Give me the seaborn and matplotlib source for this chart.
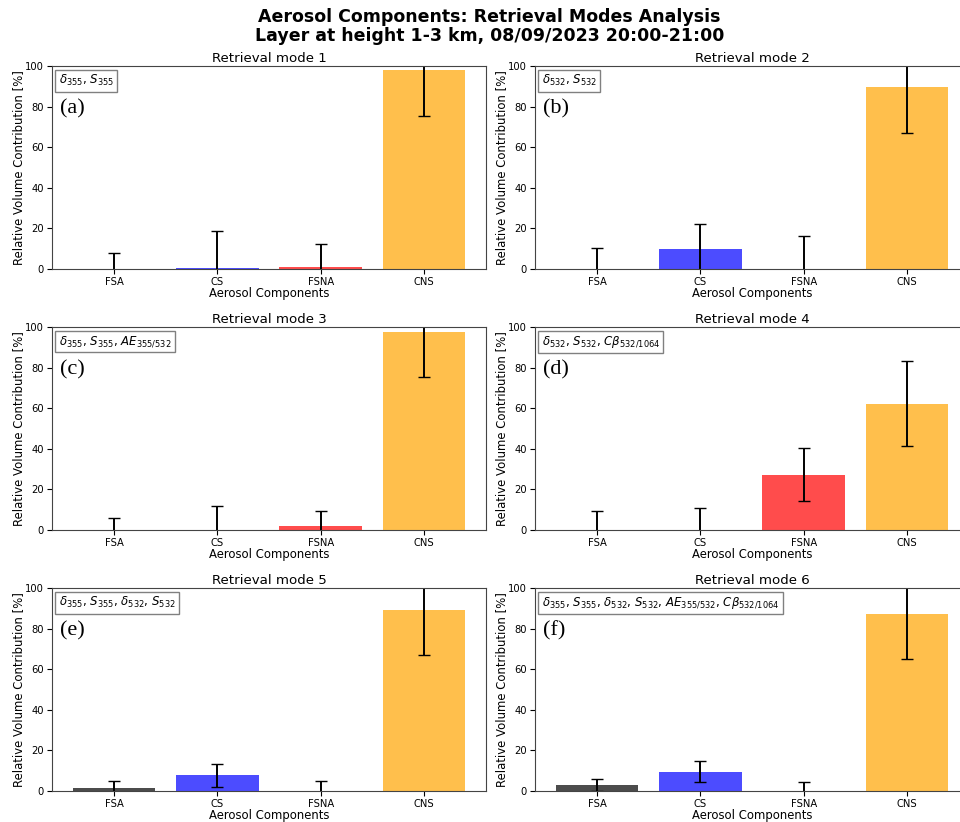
import matplotlib
matplotlib.use("Agg")
import matplotlib.pyplot as plt
import seaborn as sns
import pandas as pd

components = ["FSA", "CS", "FSNA", "CNS"]
colors = ["black", "blue", "red", "orange"]

mode_titles = ["Retrieval mode 1", "Retrieval mode 2", "Retrieval mode 3",
               "Retrieval mode 4", "Retrieval mode 5", "Retrieval mode 6"]
panel_labels = ["(a)", "(b)", "(c)", "(d)", "(e)", "(f)"]
mode_inputs = [
    r"$\delta_{355}$, $S_{355}$",
    r"$\delta_{532}$, $S_{532}$",
    r"$\delta_{355}$, $S_{355}$, $AE_{355/532}$",
    r"$\delta_{532}$, $S_{532}$, $C\beta_{532/1064}$",
    r"$\delta_{355}$, $S_{355}$, $\delta_{532}$, $S_{532}$",
    r"$\delta_{355}$, $S_{355}$, $\delta_{532}$, $S_{532}$, $AE_{355/532}$, $C\beta_{532/1064}$",
]

mode1_values = [0.0, 0.7, 1.2, 98.0]
mode1_errors = [8.0, 17.8, 11.3, 22.8]
mode2_values = [0.0, 10.0, 0.0, 89.5]
mode2_errors = [10.5, 12.2, 16.2, 22.5]
mode3_values = [0.0, 0.0, 2.0, 97.5]
mode3_errors = [5.7, 12.0, 7.6, 22.2]
mode4_values = [0.0, 0.0, 27.2, 62.2]
mode4_errors = [9.5, 10.6, 13.0, 20.9]
mode5_values = [1.5, 7.8, 0.0, 89.3]
mode5_errors = [3.5, 5.6, 5.0, 22.3]
mode6_values = [3.0, 9.5, 0.0, 87.2]
mode6_errors = [3.0, 5.2, 4.5, 22.3]

all_values = [mode1_values, mode2_values, mode3_values,
              mode4_values, mode5_values, mode6_values]
all_errors = [mode1_errors, mode2_errors, mode3_errors,
              mode4_errors, mode5_errors, mode6_errors]

palette = dict(zip(components, colors))

fig = plt.figure(figsize=(9.6, 8.22), dpi=100)

W, H = 960.0, 822.0
col_left = [52, 535]
col_width = 434
row_top = [66, 327, 588]
row_height = 203

for i in range(6):
    r, c = divmod(i, 2)
    left = col_left[c] / W
    bottom = 1 - (row_top[r] + row_height) / H
    ax = fig.add_axes([left, bottom, col_width / W, row_height / H])
    df = pd.DataFrame({"Component": components, "Value": all_values[i]})
    sns.barplot(data=df, x="Component", y="Value", hue="Component",
                palette=palette, alpha=0.7, saturation=1, width=0.8,
                legend=False, ax=ax, errorbar=None)
    ax.errorbar(range(len(components)), all_values[i], yerr=all_errors[i],
                fmt="none", ecolor="black", elinewidth=1.4, capsize=4.5,
                capthick=1.0)
    ax.set_ylim(0, 100)
    ax.set_xlim(-0.6, 3.6)
    ax.set_title(mode_titles[i], fontsize=9.6, pad=3)
    ax.set_xlabel("Aerosol Components", fontsize=8.4, labelpad=0)
    ax.set_ylabel("Relative Volume Contribution [%]", fontsize=8.4, labelpad=0)
    ax.tick_params(axis="both", labelsize=7.2, pad=2.5)
    for sp in ax.spines.values():
        sp.set_color("#444444")
    ax.text(0.015, 0.965, mode_inputs[i], transform=ax.transAxes,
            fontsize=8.5, va="top", ha="left",
            bbox=dict(boxstyle="square,pad=0.3", facecolor="white",
                      edgecolor="gray"))
    ax.text(0.018, 0.79, panel_labels[i], transform=ax.transAxes,
            fontsize=16, va="center", ha="left", family="Liberation Serif")

fig.suptitle("Aerosol Components: Retrieval Modes Analysis\n"
             "Layer at height 1-3 km, 08/09/2023 20:00-21:00",
             fontsize=12.5, fontweight="bold", x=0.51, y=0.99, linespacing=1.05)

fig.savefig("out.png", dpi=100)
